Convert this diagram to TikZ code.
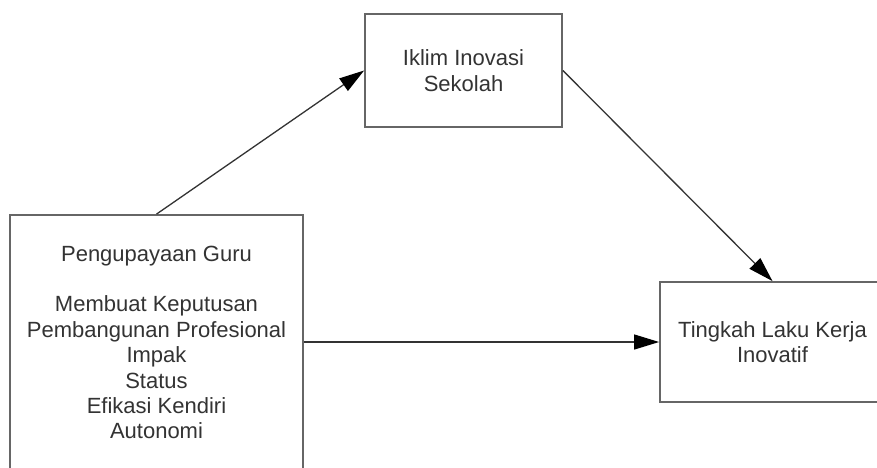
\documentclass[tikz,border=0pt]{standalone}
\usepackage{fontspec}
\setmainfont{Liberation Sans}
\usetikzlibrary{arrows.meta,calc}
\begin{document}
\begin{tikzpicture}[x=1pt,y=-1pt,
  box/.style={draw=black!60,line width=1.8pt,fill=white,inner sep=0pt,align=center,text=black!80,font=\fontsize{22}{25.4}\selectfont},
  conn/.style={draw=black!80,line width=1.3pt,-{Triangle[length=25pt,width=15pt,color=black]}},
  txt/.style={inner sep=0pt,align=center,text=black!80,font=\fontsize{22}{25.4}\selectfont}]
\useasboundingbox (0,0) rectangle (877,467);
\node[box,minimum width=197pt,minimum height=113pt] (tb) at (463.5,70.5) {Iklim Inovasi\\Sekolah};
\node[box,minimum width=293pt,minimum height=290pt] (pg) at (156.5,360) {};
\node[txt] (pgt) at (156.5,342.5) {Pengupayaan Guru\\[25.4pt]Membuat Keputusan\\Pembangunan Profesional\\Impak\\Status\\Efikasi Kendiri\\Autonomi};
\node[box,minimum width=225pt,minimum height=120pt] (tl) at (772.5,342) {Tingkah Laku Kerja\\Inovatif};
\draw[conn] (pg.north) -- (tb.west);
\draw[conn] (tb.east) -- (tl.north);
\draw[conn] (pg.east |- tl.west) -- (tl.west);
\end{tikzpicture}
\end{document}
